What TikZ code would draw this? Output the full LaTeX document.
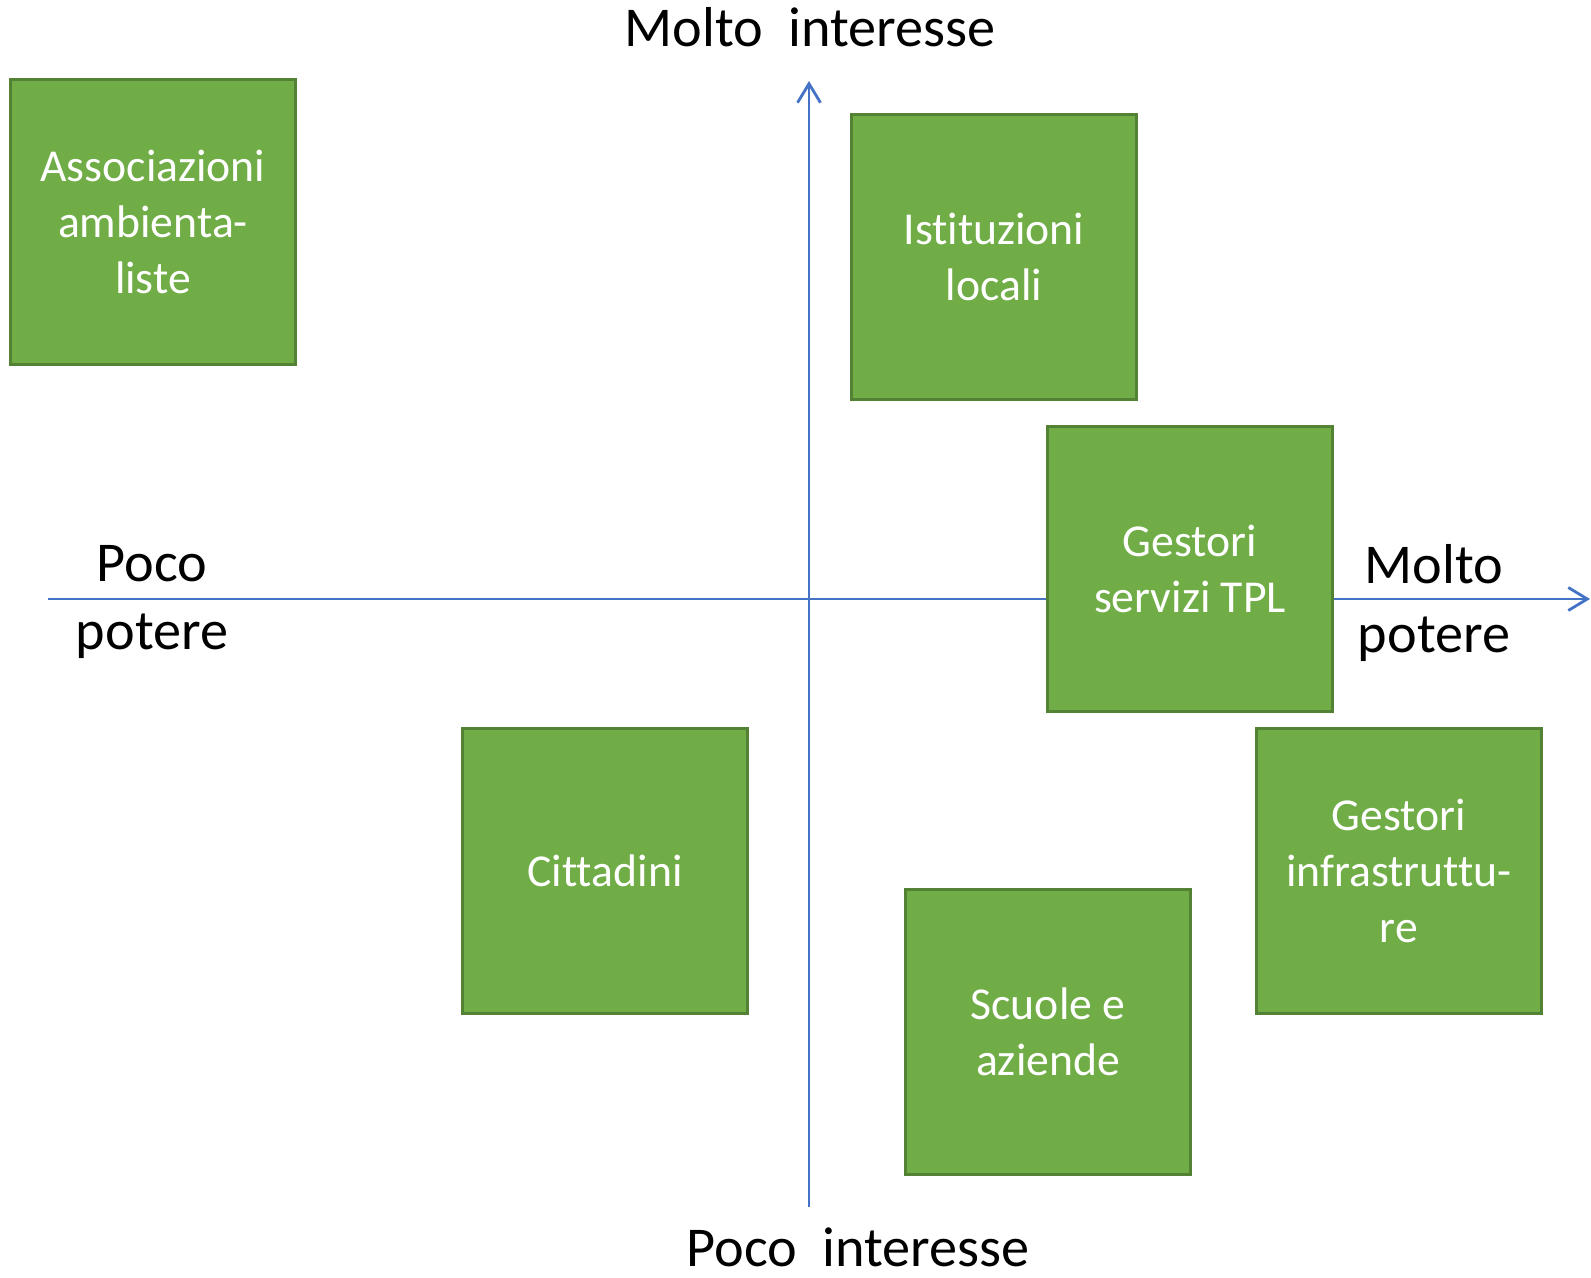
\documentclass[tikz,border=0pt]{standalone}
\usepackage{fontspec}
\setmainfont{Carlito}[Ligatures=NoCommon]
\usetikzlibrary{arrows.meta, positioning}

\definecolor{boxgreen}{HTML}{70AD47}
\definecolor{boxedge}{HTML}{548235}
\definecolor{axisblue}{HTML}{4472C4}

\begin{document}
\begin{tikzpicture}[
    x=0.02cm, y=-0.02cm,      % 1 unit = 1 px of the page, y grows downwards
    >={Straight Barb[length=0.38cm, width=0.46cm]},
    stake/.style={rectangle, draw=boxedge, line width=1.2pt, fill=boxgreen,
                  minimum width=5.7cm, minimum height=5.7cm, text=white,
                  align=center, font=\fontsize{26}{32}\selectfont},
    axis/.style={->, axisblue, line width=1.6pt},
    axis label/.style={align=center, font=\fontsize{32}{39}\selectfont},
]

\useasboundingbox (0,0) rectangle (1591,1277);

% ── Axes ──────────────────────────────────────────────────────────────────────
\coordinate (west)  at (48,599);
\coordinate (east)  at (1590,599);
\coordinate (south) at (809,1207);
\coordinate (north) at (809,81);

\draw[axis] (west) -- (east);
\draw[axis] (south) -- (north);

% ── Axis labels ───────────────────────────────────────────────────────────────
\node[axis label, anchor=base] (highint) at (810,47)   {Molto\ \ interesse};
\node[axis label, anchor=base] (lowint)  at (858,1266) {Poco\ \ interesse};
\node[axis label] (lowpow)  at (152,602)  {Poco\\potere};
\node[axis label] (highpow) at (1434,603) {Molto\\potere};

% ── Stakeholders ──────────────────────────────────────────────────────────────
\node[stake] (assoc)  at (153,222)   {Associazioni\\ambienta-\\liste};
\node[stake] (istit)  at (994,257)   {Istituzioni\\locali};
\node[stake] (tpl)    at (1190,569)  {Gestori\\servizi TPL};
\node[stake] (citt)   at (605,871)   {Cittadini};
\node[stake] (scuole) at (1048,1032) {Scuole e\\aziende};
\node[stake] (infra)  at (1399,871)  {Gestori\\infrastruttu-\\re};

\end{tikzpicture}
\end{document}
